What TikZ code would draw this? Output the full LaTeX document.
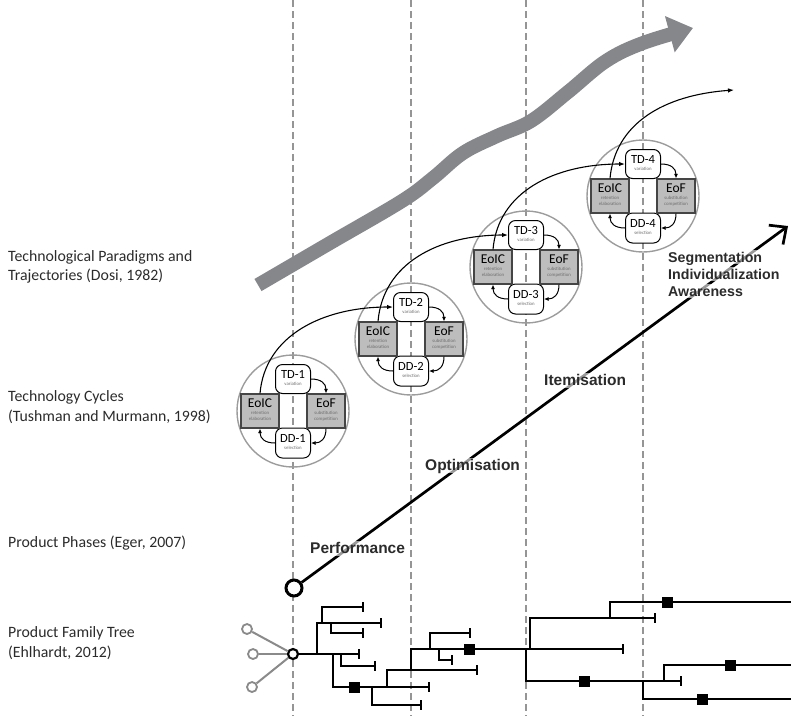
\documentclass[tikz,border=0pt]{standalone}
\usepackage{fontspec}
\setmainfont{Carlito}
\newfontfamily\phasefont{Liberation Sans}
\usetikzlibrary{arrows.meta}

\definecolor{bandgrey}{HTML}{86878B}
\definecolor{guidegrey}{HTML}{959595}
\definecolor{ringgrey}{HTML}{9C9C9C}
\definecolor{effill}{HTML}{BDBDBD}
\definecolor{efline}{HTML}{454545}
\definecolor{labeltext}{HTML}{2B2B2B}
\definecolor{tinytext}{HTML}{6E6E6E}
\definecolor{stubgrey}{HTML}{8A8A8A}

% stage box text: name over a tiny caption
\newcommand{\cycbox}[2]{{\fontsize{4.8pt}{6.2pt}\selectfont\begin{tabular}{@{}c@{}}{\fontsize{12.5pt}{13pt}\selectfont #1}\\[0.6pt]\textcolor{tinytext}{#2}\end{tabular}}}
% effect box text: name over a two-line tiny caption
\newcommand{\cycfield}[3]{{\fontsize{4.8pt}{6.2pt}\selectfont\begin{tabular}{@{}c@{}}{\fontsize{13.5pt}{14pt}\selectfont #1}\\[0.6pt]\textcolor{tinytext}{#2}\\\textcolor{tinytext}{#3}\end{tabular}}}

\begin{document}
\begin{tikzpicture}[x=1pt, y=-1pt,
  guide/.style={draw=guidegrey, line width=1.3pt, dash pattern=on 7pt off 4pt},
  band/.style={draw=bandgrey, line width=14pt, -{Triangle[length=24pt,width=36pt]}},
  ring/.style={circle, draw=ringgrey, line width=1.4pt, minimum size=112pt, inner sep=0pt},
  stagebox/.style={draw=black, fill=white, line width=1pt, rounded corners=7pt, minimum width=35pt, minimum height=29pt, inner sep=0pt},
  effectbox/.style={draw=efline, fill=effill, line width=1.2pt, minimum width=38pt, minimum height=34pt, inner sep=0pt},
  loopflow/.style={line width=1pt, -{Latex[length=4.5pt,width=4pt]}},
  cyclelink/.style={line width=1.1pt, -{Latex[length=6pt,width=4.5pt]}},
  phaseline/.style={line width=2.7pt, -{Straight Barb[length=13pt,width=24pt,line width=2.7pt]}},
  phasestartnode/.style={circle, draw=black, fill=white, line width=3pt, minimum size=16pt, inner sep=0pt},
  sidelabel/.style={anchor=west, align=left, text=labeltext, inner sep=0pt, font=\fontsize{15.8pt}{19.5pt}\selectfont},
  phaselabel/.style={anchor=west, text=labeltext, inner xsep=1pt, inner ysep=2pt, text height=11pt, text depth=0pt, fill=white, fill opacity=0.6, text opacity=1, font=\phasefont\bfseries\fontsize{15.5pt}{17pt}\selectfont},
  trendlabel/.style={phaselabel, text height=10pt, font=\phasefont\bfseries\fontsize{14.2pt}{17pt}\selectfont},
  branch/.style={line width=2.3pt},
  leaf/.style={branch, -{Bar[width=10pt,line width=2.2pt]}},
  marker/.style={fill=black, minimum size=11pt, inner sep=0pt},
  rootnode/.style={circle, draw=black, fill=white, line width=2.2pt, minimum size=10pt, inner sep=0pt},
  stubnode/.style={circle, draw=stubgrey, fill=white, line width=1.8pt, minimum size=10pt, inner sep=0pt},
  stubline/.style={draw=stubgrey, line width=2pt},
]
\useasboundingbox (0,0) rectangle (791,716);

% vertical period guides
\foreach \gx [count=\k] in {293,411,526,643} {
  \coordinate (guidetop\k) at (\gx,0);
  \coordinate (guidebot\k) at (\gx,716);
  \draw[guide] (guidetop\k) -- (guidebot\k);
}

% paradigm trajectory band
\draw[band] plot[smooth, tension=0.6] coordinates {(258,285) (330,243) (402,201) (433,178) (463,153) (497,136) (531,121) (568,92) (606,61) (643,43) (693,28)};

% technology cycles
\foreach \i/\cx/\cy in {1/293/410, 2/411/338, 3/526/266, 4/643/195} {
  \node[ring] (ring\i) at (\cx,\cy+1) {};
  \node[stagebox] (td\i) at (\cx,\cy-31) {\cycbox{TD-\i}{variation}};
  \node[stagebox, minimum height=30pt] (dd\i) at (\cx,\cy+33) {\cycbox{DD-\i}{selection}};
  \node[effectbox] (eoic\i) at (\cx-33,\cy+1) {\cycfield{EoIC}{retention}{elaboration}};
  \node[effectbox] (eof\i) at (\cx+33,\cy+1) {\cycfield{EoF}{substitution}{competition}};
  \draw[loopflow] (td\i.east) .. controls +(10,0) and +(0,-10) .. (eof\i.north);
  \draw[loopflow] (eof\i.south) .. controls +(0,10) and +(10,0) .. (dd\i.east);
  \draw[loopflow] (dd\i.west) .. controls +(-10,0) and +(0,10) .. (eoic\i.south);
}
\foreach \i/\j in {1/2,2/3,3/4}
  \draw[cyclelink] (eoic\i.north) .. controls +(5,-58) and +(-70,0) .. (td\j.west);
\coordinate (cycleend) at (734,90);
\draw[cyclelink] (eoic4.north) .. controls +(5,-55) and +(-70,5) .. (cycleend);

% product phases
\node[phasestartnode] (phasestart) at (294,588) {};
\coordinate (phaseend) at (788,226);
\draw[phaseline] (phasestart) -- (phaseend);
\node[phaselabel] (perf) at (309,548) {Performance};
\node[phaselabel] (optim) at (424,465) {Optimisation};
\node[phaselabel] (item) at (543,380) {Itemisation};
\node[trendlabel] (segm) at (667,257) {Segmentation};
\node[trendlabel] (indiv) at (667,274) {Individualization};
\node[trendlabel] (aware) at (667,291) {Awareness};

% row captions
\node[sidelabel] (dosi) at (8,267) {Technological Paradigms and\\Trajectories (Dosi, 1982)};
\node[sidelabel] (tushman) at (8,407) {Technology Cycles\\(Tushman and Murmann, 1998)};
\node[sidelabel] (eger) at (8,543) {Product Phases (Eger, 2007)};
\node[sidelabel] (ehlhardt) at (8,643) {Product Family Tree\\(Ehlhardt, 2012)};

% product family tree
\node[stubnode] (stub1) at (247,629) {};
\node[stubnode] (stub2) at (253,654) {};
\node[stubnode] (stub3) at (252,687) {};
\node[rootnode] (root) at (293,654) {};
\foreach \s in {1,2,3} \draw[stubline] (stub\s) -- (root);
\draw[leaf] (root) -- (360,654);
\draw[leaf] (317,654) |- (382,623);
\draw[leaf] (322,623) |- (364,607);
\draw[leaf] (331,623) |- (364,633);
\draw[leaf] (341,654) |- (376,666);
\draw[leaf] (333,654) |- (430,687);
\draw[leaf] (372,687) |- (422,705);
\draw[leaf] (387,687) |- (478,670);
\draw[leaf] (411,670) |- (624,649);
\draw[leaf] (430,649) |- (471,633);
\draw[leaf] (439,649) |- (453,660);
\draw[leaf] (530,649) |- (656,618);
\draw[branch] (610,618) |- (791,602);
\draw[leaf] (526,649) |- (682,681);
\draw[branch] (664,681) |- (791,665);
\draw[branch] (643,681) |- (791,699);
\node[marker] (mark1) at (354,687) {};
\node[marker] (mark2) at (469,649) {};
\node[marker] (mark3) at (667,602) {};
\node[marker] (mark4) at (584,681) {};
\node[marker] (mark5) at (730,665) {};
\node[marker] (mark6) at (702,699) {};
\end{tikzpicture}
\end{document}
